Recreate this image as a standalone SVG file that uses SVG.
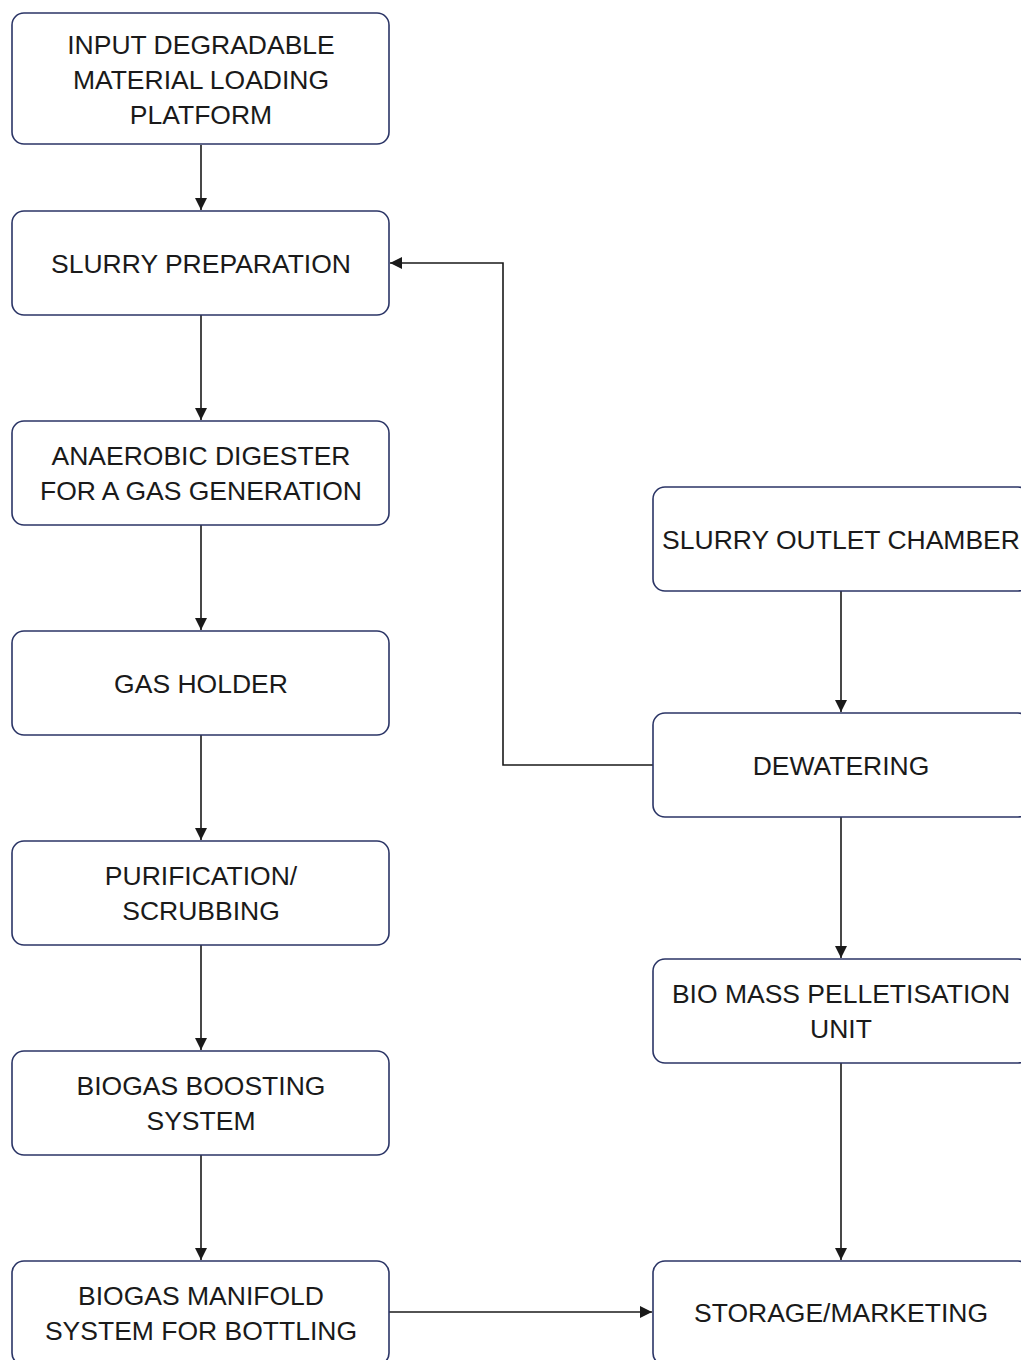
<svg xmlns="http://www.w3.org/2000/svg" width="1021" height="1360" viewBox="0 0 1021 1360">
<defs>
<style>
.box{fill:#fff;stroke:#2b3566;stroke-width:1.6}
.t{font-family:"Liberation Sans",Arial,sans-serif;font-size:26.5px;fill:#1a1a1a;text-anchor:middle}
.c{fill:none;stroke:#1a1a1a;stroke-width:1.6}
</style>
<marker id="ah" viewBox="0 0 12 12" refX="12" refY="6" markerWidth="12" markerHeight="12" markerUnits="userSpaceOnUse" orient="auto">
<path d="M0,0 L12,6 L0,12 z" fill="#1a1a1a"/>
</marker>
</defs>
<rect width="1021" height="1360" fill="#fff"/>
<g id="connectors">
<line class="c" x1="201" y1="145" x2="201" y2="210" marker-end="url(#ah)"/>
<line class="c" x1="201" y1="315" x2="201" y2="420" marker-end="url(#ah)"/>
<line class="c" x1="201" y1="525" x2="201" y2="630" marker-end="url(#ah)"/>
<line class="c" x1="201" y1="735" x2="201" y2="840" marker-end="url(#ah)"/>
<line class="c" x1="201" y1="945" x2="201" y2="1050" marker-end="url(#ah)"/>
<line class="c" x1="201" y1="1155" x2="201" y2="1260" marker-end="url(#ah)"/>
<line class="c" x1="389" y1="1312" x2="652" y2="1312" marker-end="url(#ah)"/>
<line class="c" x1="841" y1="591" x2="841" y2="712" marker-end="url(#ah)"/>
<line class="c" x1="841" y1="817" x2="841" y2="958" marker-end="url(#ah)"/>
<line class="c" x1="841" y1="1063" x2="841" y2="1260" marker-end="url(#ah)"/>
<polyline class="c" points="653,765 503,765 503,263 390,263" marker-end="url(#ah)"/>
</g>
<g id="n1"><rect class="box" x="12" y="13" width="377" height="131" rx="12"/>
<text class="t" x="201" y="54">INPUT DEGRADABLE</text><text class="t" x="201" y="89">MATERIAL LOADING</text><text class="t" x="201" y="124">PLATFORM</text></g>
<g id="n2"><rect class="box" x="12" y="211" width="377" height="104" rx="12"/>
<text class="t" x="201" y="273">SLURRY PREPARATION</text></g>
<g id="n3"><rect class="box" x="12" y="421" width="377" height="104" rx="12"/>
<text class="t" x="201" y="465">ANAEROBIC DIGESTER</text><text class="t" x="201" y="500">FOR A GAS GENERATION</text></g>
<g id="n4"><rect class="box" x="12" y="631" width="377" height="104" rx="12"/>
<text class="t" x="201" y="693">GAS HOLDER</text></g>
<g id="n5"><rect class="box" x="12" y="841" width="377" height="104" rx="12"/>
<text class="t" x="201" y="885">PURIFICATION/</text><text class="t" x="201" y="920">SCRUBBING</text></g>
<g id="n6"><rect class="box" x="12" y="1051" width="377" height="104" rx="12"/>
<text class="t" x="201" y="1095">BIOGAS BOOSTING</text><text class="t" x="201" y="1130">SYSTEM</text></g>
<g id="n7"><rect class="box" x="12" y="1261" width="377" height="104" rx="12"/>
<text class="t" x="201" y="1305">BIOGAS MANIFOLD</text><text class="t" x="201" y="1340">SYSTEM FOR BOTTLING</text></g>
<g id="n8"><rect class="box" x="653" y="487" width="377" height="104" rx="12"/>
<text class="t" x="841" y="549">SLURRY OUTLET CHAMBER</text></g>
<g id="n9"><rect class="box" x="653" y="713" width="377" height="104" rx="12"/>
<text class="t" x="841" y="775">DEWATERING</text></g>
<g id="n10"><rect class="box" x="653" y="959" width="377" height="104" rx="12"/>
<text class="t" x="841" y="1003">BIO MASS PELLETISATION</text><text class="t" x="841" y="1038">UNIT</text></g>
<g id="n11"><rect class="box" x="653" y="1261" width="377" height="104" rx="12"/>
<text class="t" x="841" y="1322">STORAGE/MARKETING</text></g>
</svg>
